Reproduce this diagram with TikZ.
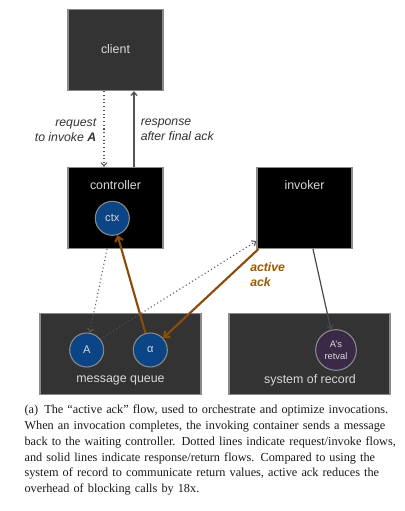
\documentclass[tikz,border=0pt]{standalone}
\usepackage{fontspec}
\setmainfont{Liberation Serif}
\setsansfont{Liberation Sans}
\usetikzlibrary{arrows.meta,calc}
\definecolor{boxgrey}{HTML}{333333}
\definecolor{edgegrey}{HTML}{8A8A8A}
\definecolor{ctxblue}{HTML}{0B4585}
\definecolor{retpurple}{HTML}{3B2A47}
\definecolor{ackbrown}{HTML}{8B4B0B}
\definecolor{labelbrown}{HTML}{9A5A00}
\definecolor{linegrey}{HTML}{555555}
\definecolor{slategrey}{HTML}{454B55}
\definecolor{boxtext}{HTML}{D8D8D8}
\definecolor{captext}{HTML}{1A1A1A}
\newcommand{\capline}[1]{\hbox to 279.75pt{#1}}
\begin{document}
\begin{tikzpicture}[x=0.75pt,y=-0.75pt,
  greybox/.style={draw=edgegrey, line width=0.9pt, fill=boxgrey, minimum width=71.25pt, minimum height=60.75pt, inner sep=0pt},
  blackbox/.style={draw=edgegrey, line width=0.9pt, fill=black, minimum width=71.25pt, minimum height=60.75pt, inner sep=0pt},
  widebox/.style={draw=edgegrey, line width=0.9pt, fill=boxgrey, minimum width=120.75pt, minimum height=60.5pt, inner sep=0pt},
  boxlabel/.style={font=\sffamily\fontsize{9.3}{11}\selectfont, text=boxtext, inner sep=0pt},
  msg/.style={circle, draw=edgegrey, line width=0.8pt, fill=ctxblue, minimum size=25.5pt, inner sep=0pt, text=boxtext, font=\sffamily\fontsize{8.3}{9}\selectfont},
  ret/.style={circle, draw=edgegrey, line width=0.8pt, fill=retpurple, minimum size=30.5pt, inner sep=0pt, text=boxtext, align=center, font=\sffamily\fontsize{7}{9}\selectfont},
  edgelabel/.style={font=\sffamily\itshape\fontsize{9.2}{11.2}\selectfont, text=boxgrey, inner sep=0pt},
  reqline/.style={draw=linegrey, line width=0.8pt, dotted, -{Straight Barb[length=2.6pt,width=4.5pt]}},
  respline/.style={draw=linegrey, line width=1pt, -{Straight Barb[length=2.6pt,width=4.5pt]}},
  ackline/.style={draw=ackbrown, line width=1.6pt, -{Straight Barb[length=3.5pt,width=6pt]}},
  storeline/.style={draw=slategrey, line width=0.9pt, -{Straight Barb[length=2.6pt,width=4.5pt]}}
]
\useasboundingbox (0,0) rectangle (404,511);
\fill[white] (0,0) rectangle (404,511);

% boxes
\node[greybox] (client) at (115.5,50) {};
\node[boxlabel] (clientlbl) at (115.5,49.5) {client};
\node[blackbox] (ctrl) at (115.5,208) {};
\node[boxlabel] (ctrllbl) at (115.5,185) {controller};
\node[blackbox] (inv) at (304.5,208) {};
\node[boxlabel] (invlbl) at (304.5,185) {invoker};
\node[widebox] (mq) at (120.5,354) {};
\node[boxlabel] (mqlbl) at (120.5,380) {message queue};
\node[widebox] (sor) at (309.5,354) {};
\node[boxlabel] (sorlbl) at (310,380) {system of record};

% circles
\node[msg] (ctx) at (112.3,218.3) {ctx};
\node[msg] (A) at (86.7,350) {A};
\node[msg] (alpha) at (150.3,350) {α};
\node[ret] (retval) at (336,350) {A’s\\retval};

% connectors
\draw[reqline] ($(client.south)+(-11.5,0)$) -- ($(ctrl.north)+(-11.5,0)$);
\draw[respline] ($(ctrl.north)+(18.5,0)$) -- ($(client.south)+(18.5,0)$);
\draw[reqline] ($(ctrl.south)+(-8.5,0)$) -- (A.80);
\draw[reqline] (A.39) -- ($(inv.south west)+(0,-8)$);
\draw[ackline] (alpha.106) -- (ctx.-73);
\draw[ackline] ($(inv.south west)+(2,0)$) -- (alpha.43);
\draw[storeline] ($(inv.south)+(8.5,0)$) -- (retval.104);

% labels
\node[edgelabel, anchor=east, align=right] (reqlbl) at (96.5,130) {request\\to invoke \textbf{A}};
\node[edgelabel, anchor=west, align=left] (resplbl) at (140.5,130) {response\\after final ack};
\node[edgelabel, anchor=west, align=left, text=labelbrown, font=\sffamily\bfseries\itshape\fontsize{9.2}{11.2}\selectfont] (acklbl) at (250,275) {active\\ack};

% caption
\node[anchor=north west, inner sep=0pt, text width=279.75pt, align=left, text=captext,
      font=\rmfamily\fontsize{9.2}{11.9}\selectfont] (caption) at (24.3,404.5)
{\capline{(a)\enspace The “active ack” flow, used to orchestrate and optimize invocations.}
\capline{When an invocation completes, the invoking container sends a message}
\capline{back to the waiting controller. Dotted lines indicate request/invoke flows,}
\capline{and solid lines indicate response/return flows. Compared to using the}
\capline{system of record to communicate return values, active ack reduces the}
overhead of blocking calls by 18x.};
\end{tikzpicture}
\end{document}
